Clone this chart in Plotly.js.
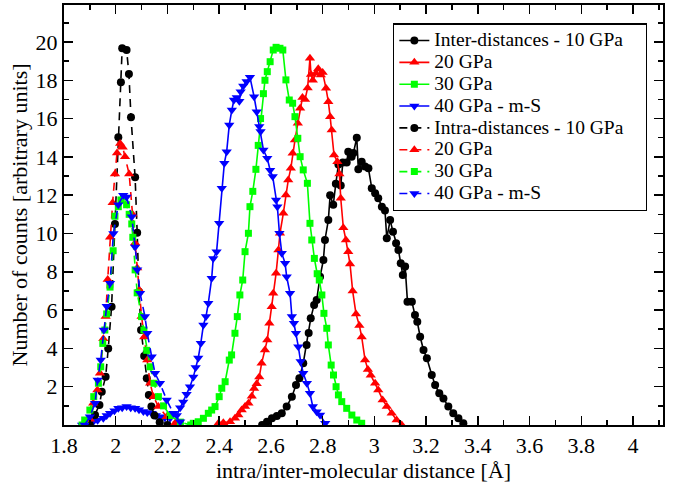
<!DOCTYPE html>
<html><head><meta charset="utf-8">
<script src="https://cdn.plot.ly/plotly-3.0.1.min.js"></script>
<style>html,body{margin:0;padding:0;background:#fff}#plot{width:683px;height:483px}</style>
</head><body><div id="plot"></div>
<script>
// Inter-molecular distances (solid lines)
const interX10 = [2.566,2.585,2.604,2.623,2.642,2.661,2.681,2.697,2.710,2.725,2.738,2.746,2.754,2.767,2.777,2.790,2.803,2.809,2.822,2.829,2.841,2.851,2.861,2.870,2.878,2.893,2.899,2.912,2.919,2.932,2.938,2.951,2.964,2.977,2.990,3.003,3.015,3.029,3.041,3.048,3.061,3.072,3.084,3.093,3.102,3.110,3.119,3.128,3.145,3.157,3.166,3.177,3.190,3.203,3.222,3.235,3.251,3.267,3.286,3.305,3.325,3.344];
const interY10 = [0.0,0.17,0.35,0.47,0.61,0.96,1.48,2.09,2.44,3.22,4.18,4.8,5.57,6.27,6.53,7.74,8.62,9.66,10.7,12.0,11.5,12.6,13.6,12.5,13.7,13.7,14.27,14.0,14.2,15.0,13.35,13.75,13.5,13.4,12.36,12.1,11.84,11.4,11.2,9.75,10.7,10.09,9.49,9.14,8.44,7.83,8.27,6.44,6.44,5.74,5.39,4.61,3.92,3.48,2.61,2.09,1.66,1.39,0.96,0.61,0.35,0.09];

const interX20 = [2.397,2.416,2.442,2.461,2.474,2.487,2.500,2.513,2.526,2.535,2.545,2.555,2.564,2.577,2.586,2.594,2.603,2.609,2.620,2.629,2.635,2.648,2.658,2.667,2.677,2.684,2.693,2.704,2.713,2.722,2.732,2.742,2.751,2.755,2.762,2.774,2.783,2.793,2.800,2.813,2.822,2.829,2.835,2.844,2.857,2.865,2.870,2.880,2.890,2.899,2.906,2.916,2.929,2.942,2.951,2.964,2.975,2.986,3.003,3.015,3.032,3.048,3.067,3.086,3.106];
const interY20 = [0.09,0.12,0.17,0.35,0.52,0.78,0.96,1.13,1.5,1.9,2.15,2.5,3.22,3.92,4.44,5.31,6.18,6.88,7.92,9.14,10.01,11.05,12.01,12.79,13.4,14.19,14.88,15.75,16.54,17.1,17.0,17.6,19.15,18.3,18.0,18.37,18.6,18.28,18.4,17.58,16.88,16.1,15.4,14.1,13.75,13.1,11.84,10.3,9.66,9.05,8.4,7.0,5.8,5.2,4.6,3.4,2.9,2.6,2.18,1.83,1.31,0.96,0.61,0.26,0.0];

const interX30 = [2.300,2.319,2.339,2.358,2.371,2.384,2.400,2.410,2.423,2.439,2.448,2.461,2.470,2.480,2.491,2.500,2.513,2.519,2.530,2.542,2.551,2.560,2.571,2.577,2.586,2.597,2.609,2.620,2.635,2.646,2.658,2.671,2.684,2.693,2.704,2.713,2.725,2.741,2.751,2.758,2.768,2.779,2.787,2.797,2.805,2.816,2.822,2.833,2.842,2.852,2.861,2.874,2.893,2.913,2.932,2.951];
const interY30 = [0.09,0.17,0.35,0.61,0.78,0.96,1.48,1.92,2.26,3.39,3.66,4.79,5.66,6.79,7.57,9.05,10.01,11.4,12.2,13.35,14.6,16.0,17.3,18.0,18.45,18.97,19.58,19.72,19.67,19.58,18.02,16.97,16.8,16.1,14.97,14.01,13.32,12.62,10.53,9.66,8.7,7.9,7.57,6.79,5.83,5.05,4.18,3.13,2.61,2.0,1.57,1.22,0.87,0.52,0.26,0.09];

const interX40 = [1.870,1.890,1.913,1.930,1.952,1.965,1.978,1.995,2.010,2.025,2.042,2.058,2.075,2.090,2.107,2.122,2.139,2.155,2.171,2.190,2.210,2.236,2.249,2.261,2.274,2.287,2.300,2.309,2.319,2.329,2.339,2.349,2.358,2.371,2.377,2.390,2.400,2.410,2.420,2.429,2.439,2.449,2.457,2.468,2.478,2.483,2.493,2.506,2.519,2.535,2.545,2.555,2.560,2.571,2.586,2.597,2.607,2.620,2.625,2.633,2.642,2.655,2.661,2.674,2.681,2.689,2.697,2.706,2.715,2.725,2.739,2.751,2.762,2.777,2.790,2.810];
const interY40 = [0.0,0.05,0.17,0.25,0.35,0.5,0.61,0.75,0.87,0.9,0.96,0.9,0.87,0.8,0.7,0.65,0.61,0.5,0.43,0.38,0.35,0.5,0.9,1.2,1.6,2.0,2.5,3.0,3.5,4.27,5.22,5.66,6.36,7.66,8.7,9.05,10.53,12.36,13.67,14.27,15.67,16.45,16.97,17.1,16.9,17.4,17.7,17.93,18.16,17.14,16.36,15.58,15.32,14.36,13.93,13.3,12.97,11.75,11.4,10.01,8.97,8.44,7.74,6.88,5.66,5.31,4.79,4.09,3.31,2.7,2.18,1.66,0.96,0.69,0.52,0.09];

// Intra-molecular distances (dashed lines)
const intraX10 = [1.900,1.920,1.937,1.946,1.961,1.971,1.984,1.997,2.010,2.020,2.025,2.042,2.051,2.059,2.075,2.083,2.090,2.098,2.110,2.120,2.128,2.138,2.150,2.170,2.200];
const intraY10 = [0.0,0.52,1.04,1.74,2.52,3.99,6.18,10.5,15.02,17.9,19.67,19.58,18.33,16.07,12.93,10.04,6.96,4.96,3.6,2.44,1.57,0.96,0.5,0.15,0.0];

const intraX20 = [1.880,1.900,1.913,1.929,1.939,1.952,1.961,1.969,1.978,1.988,1.997,2.005,2.017,2.027,2.036,2.052,2.065,2.075,2.083,2.091,2.100,2.110,2.122,2.133,2.146,2.165,2.197,2.230];
const intraY20 = [0.0,0.3,1.13,1.83,2.7,4.5,5.66,7.6,9.8,11.6,13.1,14.2,14.7,14.5,14.0,13.1,11.0,9.5,8.2,7.05,5.66,4.6,3.39,2.18,1.48,0.96,0.43,0.1];

const intraX30 = [1.870,1.880,1.900,1.915,1.933,1.942,1.950,1.958,1.965,1.978,1.990,1.997,2.010,2.020,2.030,2.042,2.052,2.062,2.066,2.075,2.083,2.100,2.109,2.120,2.133,2.148,2.165,2.185,2.210,2.250,2.290];
const intraY30 = [0.0,0.26,0.78,1.48,2.18,3.04,4.26,4.96,5.8,7.2,9.1,10.9,11.4,11.75,11.9,11.5,11.0,10.5,9.8,8.1,6.9,5.66,4.96,3.9,3.04,2.18,1.48,1.0,0.5,0.15,0.0];

const intraX40 = [1.880,1.900,1.920,1.930,1.942,1.954,1.965,1.978,1.991,2.010,2.029,2.042,2.062,2.075,2.083,2.094,2.113,2.122,2.139,2.152,2.171,2.197,2.223,2.249];
const intraY40 = [0.0,0.43,1.13,2.35,3.39,4.96,6.2,7.4,10.0,11.5,12.0,11.9,10.88,9.3,8.1,6.88,5.66,4.79,3.57,2.7,2.18,1.31,0.61,0.17];

const legendNames = ["Inter-distances - 10 GPa","20 GPa","30 GPa","40 GPa - m-S","Intra-distances - 10 GPa","20 GPa","30 GPa","40 GPa - m-S"];
const xTickVals = [1.8,2,2.2,2.4,2.6,2.8,3,3.2,3.4,3.6,3.8,4];
const yTickVals = [2,4,6,8,10,12,14,16,18,20];

const colors = ["#000000","#ff0000","#00ff00","#0000ff"];
const symbols = ["circle","triangle-up","square","triangle-down"];
const sizes = [8,9,7,9];

const interXs=[interX10,interX20,interX30,interX40], interYs=[interY10,interY20,interY30,interY40];
const intraXs=[intraX10,intraX20,intraX30,intraX40], intraYs=[intraY10,intraY20,intraY30,intraY40];

const traces=[];
for(let i=0;i<4;i++){
  traces.push({x:interXs[i],y:interYs[i],type:'scatter',mode:'lines+markers',name:legendNames[i],
    line:{color:colors[i],width:1.6},marker:{symbol:symbols[i],size:sizes[i],color:colors[i]}});
}
for(let i=0;i<4;i++){
  traces.push({x:intraXs[i],y:intraYs[i],type:'scatter',mode:'lines+markers',name:legendNames[4+i],
    line:{color:colors[i],width:1.6,dash:'8px,6px'},marker:{symbol:symbols[i],size:sizes[i],color:colors[i]}});
}

const FAM = 'Liberation Serif';
const FS = 22;
const layout = {
  width:683,height:483,
  margin:{l:64,r:20,t:5,b:58},
  paper_bgcolor:'#fff',plot_bgcolor:'#fff',
  font:{family:FAM,color:'#000',size:FS},
  showlegend:true,
  legend:{x:0.549,y:0.957,xanchor:'left',yanchor:'top',bgcolor:'#fff',bordercolor:'#000',borderwidth:1.5,
    font:{family:FAM,size:14.5,color:'#000'},tracegroupgap:0,itemwidth:30},
  xaxis:{range:[1.8,4.116],tickmode:'array',tickvals:xTickVals,ticktext:xTickVals.map(String),
    ticks:'inside',ticklen:9,tickwidth:1.5,tickcolor:'#000',showline:true,linewidth:2,linecolor:'#000',mirror:'allticks',
    showgrid:false,zeroline:false,tickfont:{family:FAM,size:FS},
    minor:{dtick:0.1,tick0:1.8,ticks:'inside',ticklen:5,tickwidth:1.5,tickcolor:'#000',showgrid:false},
    title:{text:'intra/inter-molecular distance [Å]',font:{family:FAM,size:FS},standoff:2}},
  yaxis:{range:[0,21.93],tickmode:'array',tickvals:yTickVals,ticktext:yTickVals.map(String),
    ticks:'inside',ticklen:9,tickwidth:1.5,tickcolor:'#000',showline:true,linewidth:2,linecolor:'#000',mirror:'allticks',
    showgrid:false,zeroline:false,tickfont:{family:FAM,size:FS},
    minor:{dtick:1,tick0:0,ticks:'inside',ticklen:5,tickwidth:1.5,tickcolor:'#000',showgrid:false},
    title:{text:'Number of counts [arbitrary units]',font:{family:FAM,size:FS},standoff:2}}
};
Plotly.newPlot('plot',traces,layout,{displayModeBar:false,staticPlot:true}).then(function(gd){
  // enlarge legend text while keeping the compact row spacing of the original
  gd.querySelectorAll('.legend .legendtext').forEach(function(t){ t.style.fontSize='19.5px'; });
  var w = 253;
  gd.querySelectorAll('.legend rect.bg').forEach(function(r){ r.setAttribute('width', w); });
  gd.querySelectorAll('clipPath[id^="legend"] rect').forEach(function(r){ r.setAttribute('width', w); });
});
</script></body></html>
